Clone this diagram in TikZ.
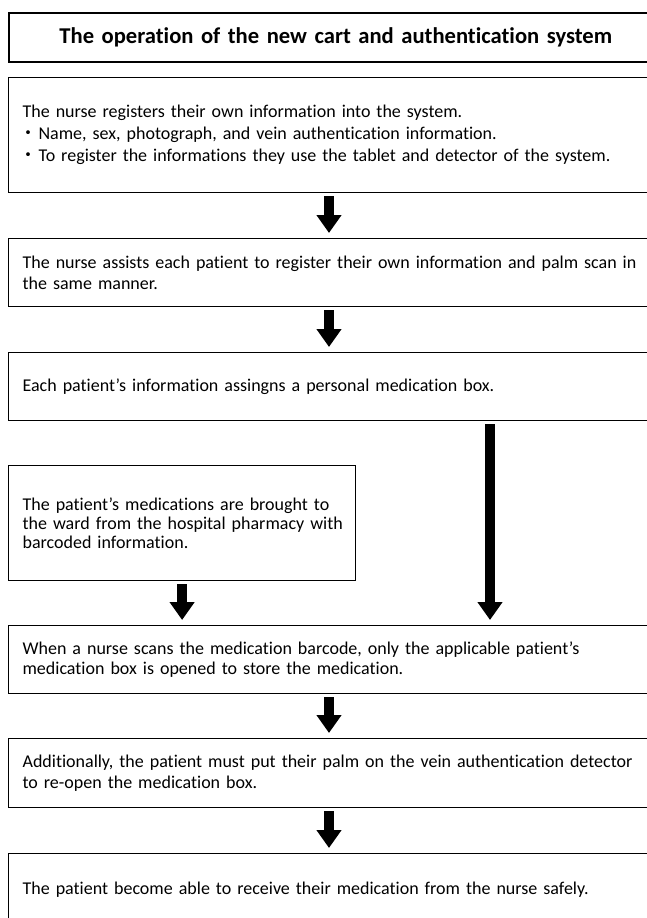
\documentclass[tikz,border=0pt]{standalone}
\usepackage{fontspec}
\setmainfont{Carlito}[Ligatures={NoCommon}, WordSpace={1,0,0}]
\newfontfamily\cjk{Noto Sans CJK JP}
\newcommand{\dotbullet}{\makebox[16pt][l]{\makebox[11pt][c]{\makebox[0pt][c]{\cjk ・}}}}
\usetikzlibrary{arrows.meta}
\begin{document}
\begin{tikzpicture}[x=1pt,y=-1pt,
  box/.style={draw, line width=1.2pt, rectangle, anchor=north west,
    minimum width=668pt, text width=640pt, inner xsep=14pt, inner ysep=0pt,
    align=left, font=\fontsize{18pt}{20.5pt}\selectfont},
  titlebox/.style={box, minimum width=654pt, text width=626pt, line width=1.5pt, align=center,
    font=\bfseries\fontsize{22.6pt}{27pt}\selectfont},
  bigarrow/.style={line width=10pt, -{Triangle[width=24pt,length=18pt]},
    shorten <=3pt, shorten >=5pt}
]
\useasboundingbox (0,0) rectangle (647,918);
\clip (0,0) rectangle (647,918);

\node[titlebox, minimum height=49pt] (t) at (8,12)
  {The operation of the new cart and authentication system};

\node[box, minimum height=115pt, font=\fontsize{18pt}{22pt}\selectfont] (b1) at (8,77)
  {The nurse registers their own information into the system.\\
   \dotbullet Name, sex, photograph, and vein authentication information.\\
   \dotbullet To register the informations they use the tablet and detector of the system.};

\node[box, minimum height=68pt] (b2) at (8,238)
  {The nurse assists each patient to register their own information and palm scan in\\
   the same manner.};

\node[box, minimum height=68pt] (b3) at (8,352)
  {Each patient's information assingns a personal medication box.};

\node[box, minimum width=347pt, text width=319pt, minimum height=115pt,
      font=\fontsize{18pt}{19pt}\selectfont] (p) at (8,465)
  {\mbox{The patient’s medications are brought to}\\
   \mbox{the ward from the hospital pharmacy with}\\
   \mbox{barcoded information.}};

\node[box, minimum height=68pt] (b5) at (8,625)
  {When a nurse scans the medication barcode, only the applicable patient’s\\
   medication box is opened to store the medication.};

\node[box, minimum height=69pt] (b6) at (8,738)
  {Additionally, the patient must put their palm on the vein authentication detector\\
   to re-open the medication box.};

\node[box, minimum height=73pt] (b7) at (8,853)
  {The patient become able to receive their medication from the nurse safely.};

\draw[bigarrow] ([xshift=321pt]b1.south west) -- ([xshift=321pt]b2.north west);
\draw[bigarrow] ([xshift=321pt]b2.south west) -- ([xshift=321pt]b3.north west);
\draw[bigarrow] ([xshift=482pt]b3.south west) -- ([xshift=482pt]b5.north west);
\draw[bigarrow] (p.south) -- (p.south |- b5.north);
\draw[bigarrow] ([xshift=321pt]b5.south west) -- ([xshift=321pt]b6.north west);
\draw[bigarrow] ([xshift=321pt]b6.south west) -- ([xshift=321pt]b7.north west);
\end{tikzpicture}
\end{document}
